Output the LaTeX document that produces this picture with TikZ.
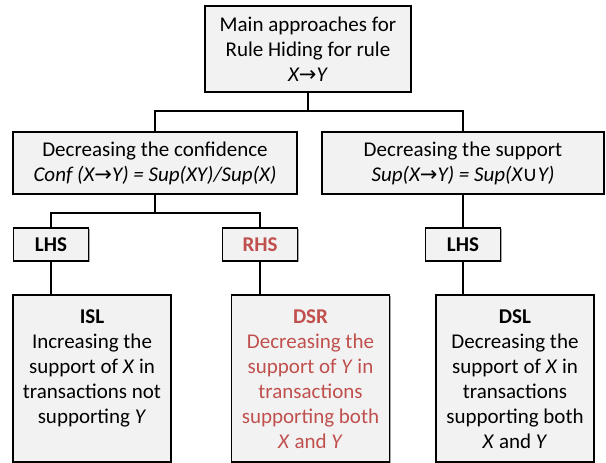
\documentclass[tikz,border=0pt]{standalone}
\usepackage{fontspec}
\setmainfont{Carlito}
\newfontfamily\symfont{DejaVu Sans}
\usepackage{xcolor}
\definecolor{boxgray}{HTML}{F2F2F2}
\definecolor{hidered}{HTML}{C0504D}
\usetikzlibrary{positioning,shadows}

% top aligned text inside the tall boxes at the bottom
\newcommand{\toptext}[1]{\parbox[c][167pt][t]{158pt}{\centering\vspace*{14.5pt}#1}}
\newcommand{\imp}{{\symfont\upshape →}}
\newcommand{\uni}{{\symfont\upshape ∪}}

\begin{document}
\begin{tikzpicture}[x=1pt,y=1pt,line cap=round,semithick,
                    font=\fontsize{21}{25}\selectfont,
					box/.style={rectangle,draw=black,line width=1.3pt,fill=boxgray,inner sep=0pt,align=center,
					            general shadow={shadow xshift=1pt,shadow yshift=-1pt,fill=black!35}},
					sidebox/.style={box,minimum width=75pt,minimum height=33pt,font=\fontsize{21}{25}\selectfont\bfseries},
					tallbox/.style={box,minimum width=158pt,minimum height=167pt},
					hidden/.style={text=hidered},
					wire/.style={line width=1.3pt},
				]
  \useasboundingbox (0,0) rectangle (606,-463);

  \node[box,minimum width=206pt,minimum height=86pt]	(main)  at (308,-49)   {Main approaches for\\Rule Hiding for rule\\\textit{X\imp Y}};
  \node[box,minimum width=284pt,minimum height=62pt]	(conf)  at (155,-163)  {Decreasing the confidence\\\textit{Conf (X\imp Y) = Sup(XY)/Sup(X)}};
  \node[box,minimum width=282pt,minimum height=62pt]	(supp)  at (463,-163)  {Decreasing the support\\\textit{Sup(X\imp Y) = Sup(X\uni Y)}};
  \node[sidebox]			(lhsA)  at (51,-244.5)   {LHS};
  \node[sidebox,hidden]		(rhs)   at (260,-244.5)  {RHS};
  \node[sidebox]			(lhsB)  at (463,-244.5)  {LHS};
  \node[tallbox]			(isl)   at (92,-378.5)   {\toptext{\textbf{ISL}\\Increasing the\\support of \textit{X} in\\transactions not\\supporting \textit{Y}}};
  \node[tallbox,hidden]		(dsr)   at (310.5,-378.5) {\toptext{\textbf{DSR}\\Decreasing the\\support of \textit{Y} in\\transactions\\supporting both\\\textit{X} and \textit{Y}}};
  \node[tallbox]			(dsl)   at (515,-378.5)  {\toptext{\textbf{DSL}\\Decreasing the\\support of \textit{X} in\\transactions\\supporting both\\\textit{X} and \textit{Y}}};

  \coordinate (busA) at (308,-111);
  \coordinate (busB) at (155,-213);

  \draw[wire] (main.south) -- (busA) -| (conf.north)
              (busA) -| (supp.north)
              (conf.south) -- (busB) -| (lhsA.north)
              (busB) -| (rhs.north)
              (supp.south) -- (lhsB.north)
              (lhsA.south) -- (lhsA.south |- isl.north)
              (rhs.south)  -- (rhs.south |- dsr.north)
              (lhsB.south) -- (lhsB.south |- dsl.north)
		 ;
\end{tikzpicture}
\end{document}
